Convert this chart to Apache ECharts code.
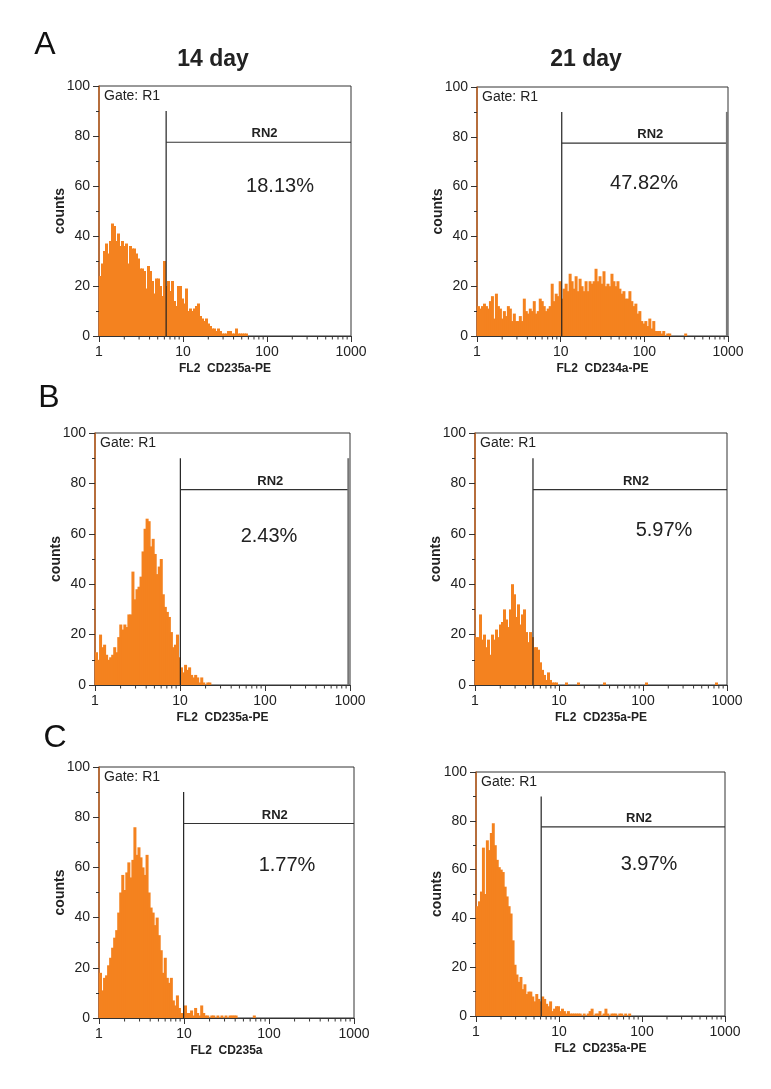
<!DOCTYPE html>
<html><head><meta charset="utf-8">
<script src="https://cdn.jsdelivr.net/npm/echarts@6/dist/echarts.min.js"></script>
<style>html,body{margin:0;padding:0;background:#fff}#c{width:771px;height:1089px}</style>
</head><body><div id="c"></div>
<script>
// ---------------- data ----------------
const channelsPerDecade = 42;            // histogram channels per log decade, starting at 1
const xTickValues = [1, 10, 100, 1000];
const xMinorTicks = [2,3,4,5,6,7,8,9,20,30,40,50,60,70,80,90,200,300,400,500,600,700,800,900];
const yTickStep = 20;
const columnTitles = ['14 day', '21 day'];
const rowLetters = ['A', 'B', 'C'];
const xAxisNames = ['FL2  CD235a-PE', 'FL2  CD234a-PE', 'FL2  CD235a-PE', 'FL2  CD235a-PE', 'FL2  CD235a', 'FL2  CD235a-PE'];
const percentLabels = ['18.13%', '47.82%', '2.43%', '5.97%', '1.77%', '3.97%'];
const gateStart = [6.3, 10.3, 10.1, 4.9, 9.9, 6.1];
const gateEnd = [1000, 970, 955, 1000, 1000, 1000];
const gateRightEdge = [false, true, true, false, false, false];
const gateTop = 90;
const gateLevel = 77.5;
const gateName = 'RN2';
const gateText = 'Gate: R1';

const countsA14 = [24,29,34,37,33,38,45,44,38,41,36,38,36,37,29,36,35,35,33,31,27,27,26,19,28,26,22,17,23,23,20,16,30,20,22,18,22,14,12,20,20,15,13,19,10,11,10,11,12,13,8,7,6,7,5,4,3,3,2,3,2,1,1,1,2,2,1,1,3,1,1,1,1,1];
const countsA21 = [12,11,12,13,12,11,14,16,7,17,12,11,7,10,8,12,11,6,9,6,6,8,6,15,10,9,11,10,14,9,10,15,14,12,10,11,12,21,14,17,16,22,15,19,21,18,25,22,19,24,18,23,20,18,22,18,22,21,22,27,22,24,21,26,20,21,20,25,22,20,22,19,17,18,15,15,18,14,12,13,9,10,6,5,6,4,7,3,6,2,2,2,1,2,0,1,1,0,0,0,0,0,0,0,1];
const countsB14 = [13,10,20,15,16,12,10,11,12,15,13,19,24,22,24,23,28,28,45,34,38,39,43,53,62,66,65,55,58,52,44,47,50,36,31,29,27,21,15,16,20,11,7,5,8,6,7,4,3,4,3,1,3,1,0,1,1];
const countsB21 = [19,19,28,18,20,15,18,12,20,18,22,19,24,25,30,26,23,30,40,36,27,32,24,28,30,21,17,21,19,15,15,14,9,6,4,2,5,2,1,1,1,0,0,0,0,1,0,0,0,0,0,1,0,0,0,0,0,0,0,0,0,0,0,0,1,0,0,0,0,0,0,0,0,0,0,0,0,0,0,0,0,0,0,0,0,1,0,0,0,0,0,0,0,0,0,0,0,0,0,0,0,0,0,0,0,0,0,0,0,0,0,0,0,0,0,0,0,0,0,0,1];
const countsC14 = [18,11,16,17,21,24,28,32,35,42,50,57,51,58,62,56,63,76,65,68,64,60,57,65,50,44,42,37,40,33,27,18,24,16,14,16,7,5,9,4,2,1,5,2,2,3,1,4,2,1,5,2,1,1,0,1,1,0,1,0,1,0,1,0,1,1,1,1,0,0,0,0,0,0,0,0,1];
const countsC21 = [45,47,51,69,50,72,68,75,79,70,64,61,60,59,53,49,45,42,31,21,17,14,16,11,13,9,10,10,8,6,9,7,6,8,7,5,4,6,2,3,4,4,2,3,2,1,2,1,1,1,1,1,1,0,1,0,1,2,3,0,1,1,2,0,1,3,1,0,1,1,1,0,1,1,0,1,0,1];
const panelCounts = [countsA14, countsA21, countsB14, countsB21, countsC14, countsC21];

// ---------------- layout / style ----------------
const grids = [
  {left: 99,  top: 86,  width: 252, height: 250},
  {left: 477, top: 87,  width: 251, height: 249},
  {left: 95,  top: 433, width: 255, height: 252},
  {left: 475, top: 433, width: 252, height: 252},
  {left: 99,  top: 767, width: 255, height: 251},
  {left: 476, top: 772, width: 249, height: 244}
];
const percentPos = [[280,186],[644,183],[269,536],[664,530],[287,865],[649,864]];
const titlePos = [[213,60],[586,60]];
const letterPos = [[45,45],[49,398],[55,738]];
const FONT = '"Liberation Sans", Arial, Helvetica, sans-serif';
const ORANGE = '#F4821F';
const INK = '#222';

const chart = echarts.init(document.getElementById('c'), null, {renderer: 'canvas'});

const xAxes = [], yAxes = [], series = [], graphics = [];
grids.forEach((g, k) => {
  xAxes.push({
    gridIndex: k, type: 'log', logBase: 10, min: 1, max: 1000,
    axisLine: {show: true, lineStyle: {color: '#333', width: 1}},
    axisTick: {show: true, length: 6, lineStyle: {color: '#333'}},
    minorTick: {show: false},
    splitLine: {show: false},
    axisLabel: {color: INK, fontSize: 14, fontFamily: FONT, margin: 9,
      formatter: v => String(Math.round(v))},
    name: xAxisNames[k], nameLocation: 'middle', nameGap: 27, nameMoveOverlap: false,
    nameTextStyle: {color: INK, fontSize: 12, fontWeight: 'bold', fontFamily: FONT}
  });
  yAxes.push({
    gridIndex: k, type: 'value', min: 0, max: 100, interval: yTickStep,
    axisLine: {show: true, lineStyle: {color: '#c0601e', width: 1.5}},
    axisTick: {show: true, length: 6, lineStyle: {color: '#333'}},
    minorTick: {show: true, splitNumber: 2, length: 3, lineStyle: {color: '#333'}},
    splitLine: {show: false},
    axisLabel: {color: INK, fontSize: 14, fontFamily: FONT, margin: 9},
    name: 'counts', nameLocation: 'middle', nameRotate: 90, nameGap: 32, nameMoveOverlap: false,
    nameTextStyle: {color: INK, fontSize: 14, fontWeight: 'bold', fontFamily: FONT}
  });
  // histogram
  const data = [];
  panelCounts[k].forEach((c, i) => {
    if (c > 0) data.push([Math.pow(10, i / channelsPerDecade), Math.pow(10, (i + 1) / channelsPerDecade), c]);
  });
  series.push({
    type: 'custom', xAxisIndex: k, yAxisIndex: k, z: 2,
    encode: {x: [0, 1], y: 2},
    data: data,
    renderItem: (params, api) => {
      const a = api.coord([api.value(0), api.value(2)]);
      const b = api.coord([api.value(1), 0]);
      return {type: 'rect', shape: {x: a[0], y: a[1], width: b[0] - a[0] + 1, height: b[1] - a[1]},
        style: {fill: ORANGE}};
    }
  });
  // minor x ticks (log decades)
  series.push({
    type: 'custom', xAxisIndex: k, yAxisIndex: k, z: 3, clip: false, silent: true,
    encode: {x: 0, y: 1},
    data: xMinorTicks.map(v => [v, 0]),
    renderItem: (params, api) => {
      const p = api.coord([api.value(0), 0]);
      return {type: 'line', shape: {x1: p[0], y1: p[1], x2: p[0], y2: p[1] + 3.5},
        style: {stroke: '#333', lineWidth: 1}};
    }
  });
  // gate marker
  const showRight = gateRightEdge[k];
  series.push({
    type: 'custom', xAxisIndex: k, yAxisIndex: k, z: 5, clip: false, silent: true,
    encode: {x: [0, 1], y: [2, 3]},
    data: [[gateStart[k], gateEnd[k], gateTop, gateLevel]],
    renderItem: (params, api) => {
      const gs = api.value(0), ge = api.value(1), top = api.value(2), lev = api.value(3);
      const p0 = api.coord([gs, 0]), p1 = api.coord([gs, top]);
      const h0 = api.coord([gs, lev]), h1 = api.coord([ge, lev]);
      const children = [
        {type: 'line', shape: {x1: p0[0], y1: p0[1], x2: p1[0], y2: p1[1]}, style: {stroke: INK, lineWidth: 1.2}},
        {type: 'line', shape: {x1: h0[0], y1: h0[1], x2: h1[0], y2: h1[1]}, style: {stroke: '#333', lineWidth: 1.2}},
        {type: 'text', x: (h0[0] + h1[0]) / 2 + 6, y: h0[1] - 2,
          style: {text: gateName, fill: INK, font: 'bold 13px ' + FONT, align: 'center', verticalAlign: 'bottom'}}
      ];
      if (showRight) {
        const r0 = api.coord([ge, 0]), r1 = api.coord([ge, top]);
        children.push({type: 'line', shape: {x1: r0[0], y1: r0[1], x2: r1[0], y2: r1[1]}, style: {stroke: '#777', lineWidth: 2}});
      }
      return {type: 'group', children};
    }
  });
  graphics.push({type: 'text', x: g.left + 5, y: g.top + 10, z: 10,
    style: {text: gateText, fill: INK, font: '14px ' + FONT, align: 'left', verticalAlign: 'middle'}});
  graphics.push({type: 'text', x: percentPos[k][0], y: percentPos[k][1], z: 10,
    style: {text: percentLabels[k], fill: INK, font: '20px ' + FONT, align: 'center', verticalAlign: 'middle'}});
});
columnTitles.forEach((t, i) => graphics.push({type: 'text', x: titlePos[i][0], y: titlePos[i][1], z: 10,
  style: {text: t, fill: INK, font: 'bold 23px ' + FONT, align: 'center', verticalAlign: 'middle'}}));
rowLetters.forEach((t, i) => graphics.push({type: 'text', x: letterPos[i][0], y: letterPos[i][1], z: 10,
  style: {text: t, fill: '#111', font: '32px ' + FONT, align: 'center', verticalAlign: 'middle'}}));

chart.setOption({
  animation: false,
  backgroundColor: '#fff',
  grid: grids.map(g => Object.assign({show: true, borderColor: '#333', borderWidth: 1, backgroundColor: 'transparent'}, g)),
  xAxis: xAxes,
  yAxis: yAxes,
  series: series,
  graphic: graphics
});
</script>
</body></html>
